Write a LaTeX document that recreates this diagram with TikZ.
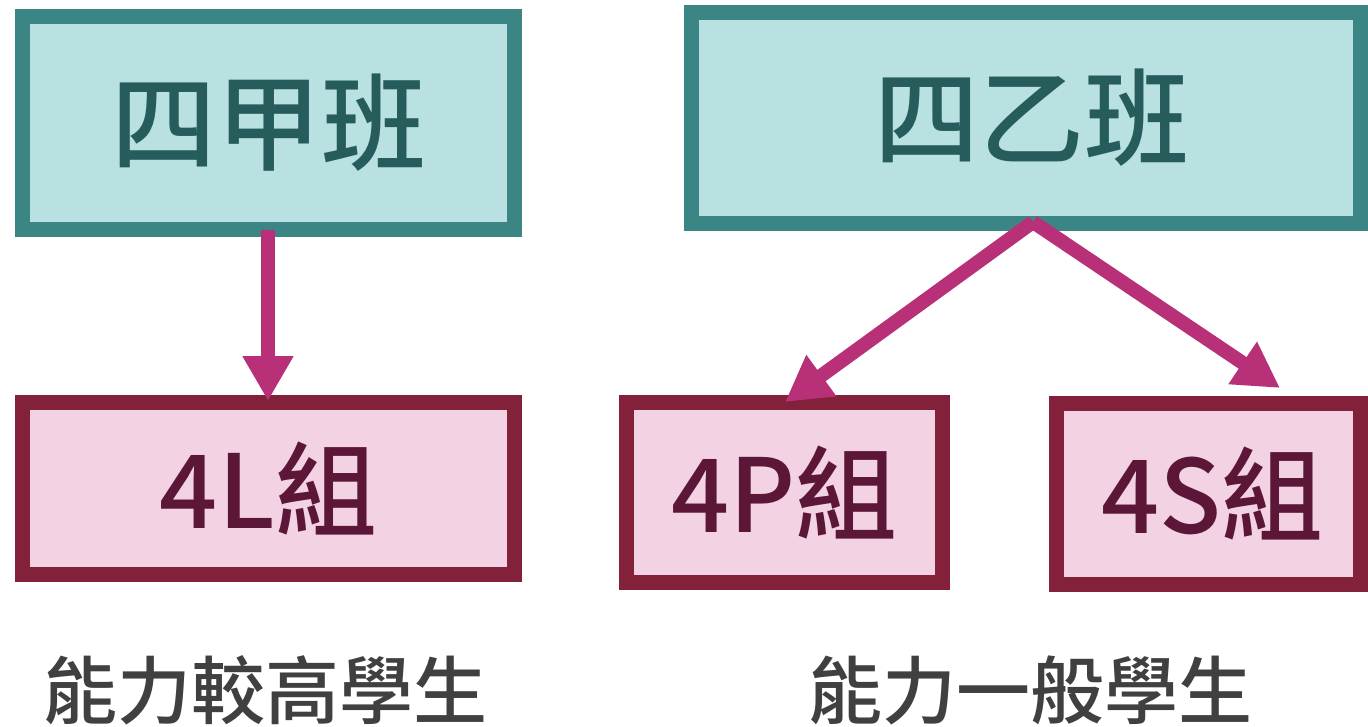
\documentclass[tikz,border=0pt]{standalone}
\usepackage{fontspec}
\setmainfont{Noto Sans CJK TC}
\newfontfamily\cjkmed{Noto Sans CJK TC Medium}
\usetikzlibrary{arrows.meta}
\definecolor{tealB}{HTML}{3C8585}
\definecolor{tealF}{HTML}{BAE1E1}
\definecolor{tealT}{HTML}{275C5C}
\definecolor{marB}{HTML}{84213A}
\definecolor{marF}{HTML}{F3D3E3}
\definecolor{marT}{HTML}{5C1638}
\definecolor{arr}{HTML}{B83078}
\definecolor{lab}{HTML}{404040}
\tikzset{
  classbox/.style={draw=tealB, fill=tealF, line width=15pt, inner sep=0pt,
    text=tealT, font=\cjkmed\fontsize{105}{110}\selectfont},
  groupbox/.style={draw=marB, fill=marF, line width=15pt, inner sep=0pt,
    text=marT, font=\cjkmed\fontsize{102}{108}\selectfont},
  caption/.style={inner sep=0pt, text=lab, font=\cjkmed\fontsize{74}{80}\selectfont},
  conn/.style={draw=arr, line width=14pt, -{Triangle[length=45pt,width=48pt]}}
}
\begin{document}
\begin{tikzpicture}[x=1pt,y=-1pt]
\useasboundingbox (0,0) rectangle (1368,727);
\fill[white] (0,0) rectangle (1368,727);
\node[classbox, minimum width=492pt, minimum height=213pt] (A) at (268.5,123) {四甲班};
\node[classbox, minimum width=669pt, minimum height=211pt] (B) at (1026,118) {\hspace*{12pt}四乙班};
\node[groupbox, minimum width=492pt, minimum height=172pt] (C) at (268.5,488.5) {4L組};
\node[groupbox, minimum width=316pt, minimum height=180pt] (D) at (784.5,492.5) {4P組};
\node[groupbox, minimum width=304pt, minimum height=181pt] (E) at (1208.5,494) {\hspace*{8pt}4S組};
\node[caption] (L1) at (265,690) {能力較高學生};
\node[caption] (L2) at (1030,690) {能力一般學生};
\coordinate (a1) at (268,230);
\coordinate (t1) at (268,401);
\coordinate (apex) at (1033,222);
\coordinate (t2) at (785,402);
\coordinate (t3) at (1280,388);
\draw[conn] (a1) -- (t1);
\draw[conn] (apex) -- (t2);
\draw[conn] (apex) -- (t3);
\end{tikzpicture}
\end{document}
